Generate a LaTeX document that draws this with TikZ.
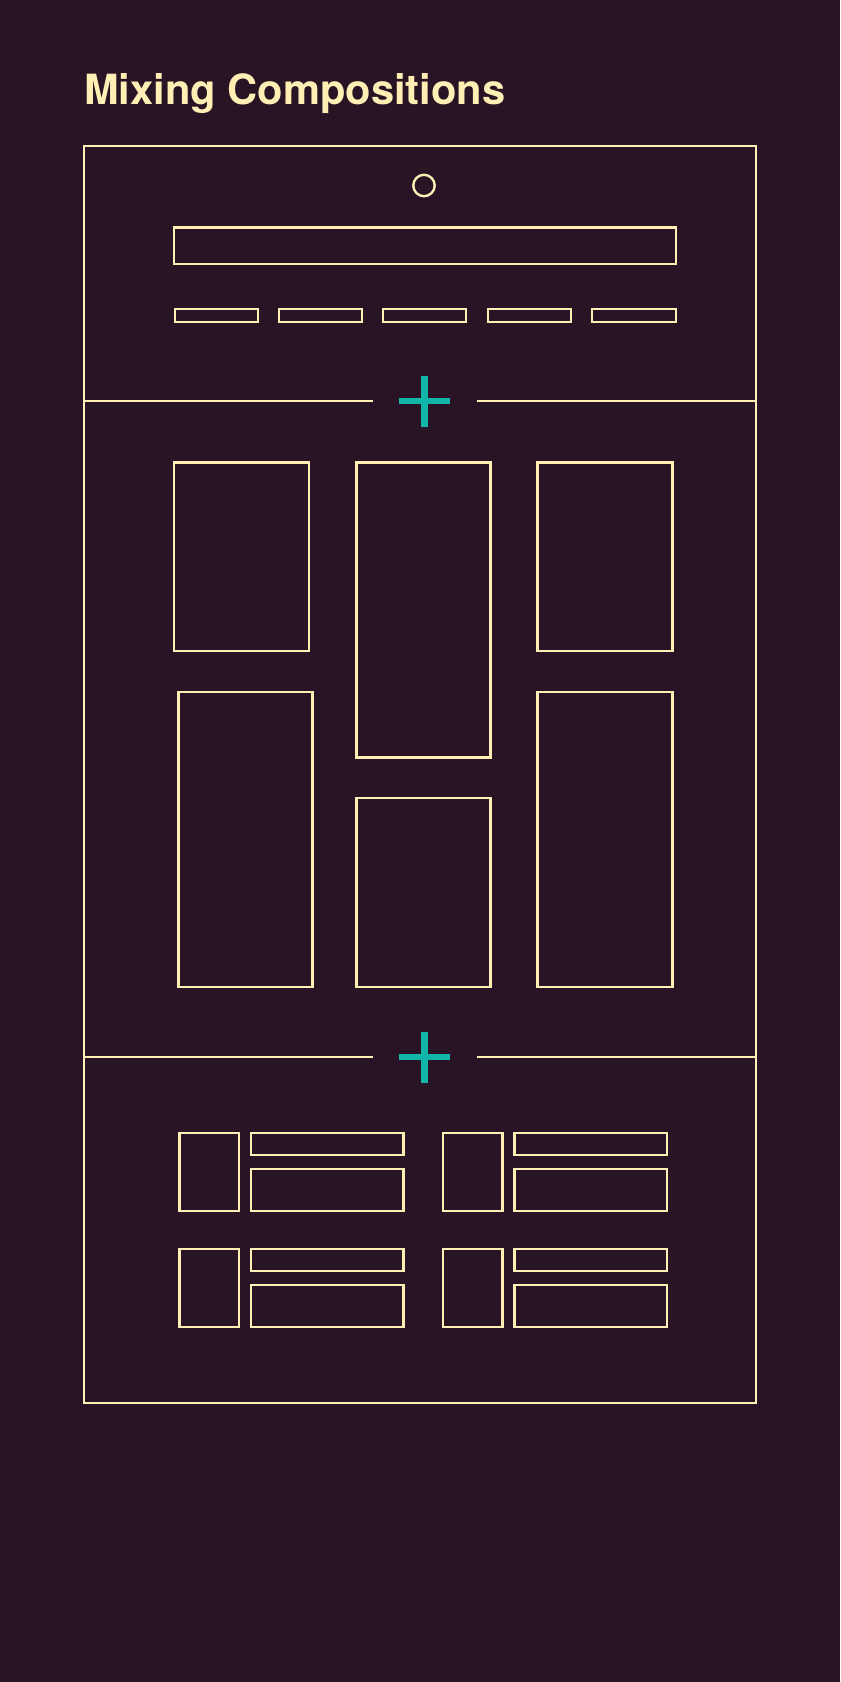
\documentclass[tikz,border=0pt]{standalone}
\usepackage{fontspec}
\setmainfont{TeX Gyre Heros}
\definecolor{bg}{HTML}{281424}
\definecolor{cream}{HTML}{FFEFB5}
\definecolor{teal}{HTML}{12B5AA}
\tikzset{
  wire/.style={draw=cream, line width=1.8pt},
  plusbar/.style={draw=teal, line width=4.6pt},
}
\begin{document}
\begin{tikzpicture}[x=0.75pt,y=-0.75pt]
\fill[bg] (0,0) rectangle (840,1682);
\useasboundingbox (0,0) rectangle (840,1682);
% title
\node[anchor=base west, inner sep=0pt, text=cream, font=\bfseries\fontsize{31.2pt}{38pt}\selectfont] (title) at (84,104) {Mixing Compositions};
% frame
\draw[wire] (84,146) rectangle (756,1403);
% header section
\draw[wire] (424,185.5) circle (10.7);
\draw[wire] (174,227.5) rectangle (676,264);
\foreach \a/\b in {175/258, 279/362, 383/466, 488/571, 592/676}
  \draw[wire] (\a,309) rectangle (\b,322);
% divider 1
\draw[wire] (84,401) -- (372.5,401);
\draw[wire] (476.5,401) -- (756,401);
\draw[plusbar] (399,401) -- (450,401);
\draw[plusbar] (424.5,375.5) -- (424.5,426.5);
% middle boxes
\draw[wire] (174,462.5) rectangle (309,651);
\draw[wire] (356.5,462.5) rectangle (490.5,757.5);
\draw[wire] (537.5,462.5) rectangle (672.5,651);
\draw[wire] (178.5,692) rectangle (312.5,987);
\draw[wire] (356.5,798) rectangle (490.5,987);
\draw[wire] (537.5,692) rectangle (672.5,987);
% divider 2
\draw[wire] (84,1057) -- (372.5,1057);
\draw[wire] (476.5,1057) -- (756,1057);
\draw[plusbar] (399,1057) -- (450,1057);
\draw[plusbar] (424.5,1032) -- (424.5,1083);
% bottom list items
\foreach \x in {0, 263.5}{
  \foreach \y in {0, 116}{
    \draw[wire] ({179.5+\x},{1133+\y}) rectangle ({239+\x},{1211+\y});
    \draw[wire] ({251+\x},{1133+\y}) rectangle ({403.5+\x},{1155+\y});
    \draw[wire] ({251+\x},{1169+\y}) rectangle ({403.5+\x},{1211+\y});
  }
}
\end{tikzpicture}
\end{document}
